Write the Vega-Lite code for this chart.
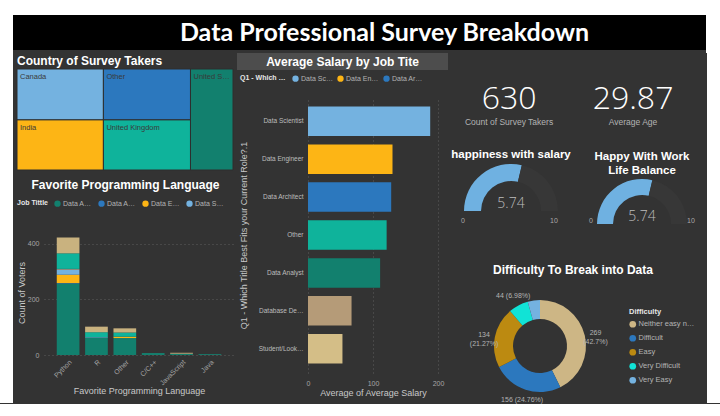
{
  "$schema": "https://vega.github.io/schema/vega-lite/v6.json",
  "background": "#333333",
  "padding": 0,
  "spacing": 0,
  "resolve": {"scale": {"color": "independent", "theta": "independent"}, "legend": {"color": "independent"}},
  "config": {
    "view": {"stroke": null},
    "font": "Liberation Sans",
    "axis": {"domain": false, "ticks": false, "tickSize": 0, "labelColor": "#a6a6a6", "labelFontSize": 7, "titleColor": "#c8c8c8", "titleFontSize": 9, "titleFontWeight": "normal", "gridColor": "#5e5e5e", "gridDash": [1, 3], "labelFlush": false},
    "legend": {"labelColor": "#b3b3b3", "labelFontSize": 7, "titleColor": "#e6e6e6", "titleFontSize": 7, "titleFontWeight": "bold", "symbolType": "circle", "symbolSize": 40, "symbolStrokeWidth": 0, "padding": 0, "labelOffset": 2},
    "title": {"color": "white", "fontWeight": "bold", "font": "Liberation Sans"}
  },
  "vconcat": [
    {
      "spacing": 0,
      "resolve": {"scale": {"color": "independent"}, "legend": {"color": "independent"}},
      "vconcat": [
        {"width": 720, "height": 15, "view": {"fill": "white"}, "data": {"values": [{"t": ""}]}, "mark": {"type": "text"}, "encoding": {"text": {"field": "t"}}},
        {
          "spacing": 0,
          "resolve": {"scale": {"color": "independent"}, "legend": {"color": "independent"}},
          "hconcat": [
            {"width": 13, "height": 38, "view": {"fill": "white"}, "data": {"values": [{"t": ""}]}, "mark": {"type": "text"}, "encoding": {"text": {"field": "t"}}},
            {"width": 693, "height": 35, "view": {"fill": "black"}, "data": {"values": [{"t": "Data Professional Survey Breakdown"}]}, "mark": {"type": "text", "font": "Lato", "fontWeight": "bold", "fontSize": 25, "color": "white", "dx": 25}, "encoding": {"text": {"field": "t"}}},
            {"width": 14, "height": 38, "view": {"fill": "white"}, "data": {"values": [{"t": ""}]}, "mark": {"type": "text"}, "encoding": {"text": {"field": "t"}}}
          ]
        }
      ]
    },
    {
      "spacing": 3,
      "resolve": {"scale": {"color": "independent", "theta": "independent"}, "legend": {"color": "independent"}},
      "hconcat": [
        {"width": 13, "height": 350, "view": {"fill": "white"}, "data": {"values": [{"t": ""}]}, "mark": {"type": "text"}, "encoding": {"text": {"field": "t"}}},
        {
          "spacing": 8,
          "resolve": {"scale": {"color": "independent"}, "legend": {"color": "independent"}},
          "vconcat": [
            {
              "spacing": 0,
              "resolve": {"scale": {"color": "independent"}, "legend": {"color": "independent"}},
              "vconcat": [
                {
                  "width": 216, "height": 15,
                  "data": {"values": [{"t": "Country of Survey Takers"}]},
                  "mark": {"type": "text", "align": "left", "baseline": "middle", "fontSize": 12, "fontWeight": "bold", "color": "white"},
                  "encoding": {
                    "x": {"field": "t", "type": "nominal", "scale": {"type": "point", "padding": 0, "align": 0}, "axis": null},
                    "text": {"field": "t"}
                  }
                },
                {
                  "width": 216, "height": 101,
                  "data": {"values": [
                    {"country": "Canada", "col": 1, "ord": 1, "n": 127},
                    {"country": "India", "col": 1, "ord": 2, "n": 125},
                    {"country": "Other", "col": 2, "ord": 1, "n": 128},
                    {"country": "United Kingdom", "col": 2, "ord": 2, "n": 126},
                    {"country": "United States", "col": 3, "ord": 1, "n": 124}
                  ]},
                  "transform": [
                    {"stack": "n", "groupby": [], "sort": [{"field": "col", "order": "ascending"}, {"field": "ord", "order": "ascending"}], "as": ["s0", "s1"]},
                    {"window": [{"op": "min", "field": "s0", "as": "x0"}, {"op": "max", "field": "s1", "as": "x1"}], "groupby": ["col"], "frame": [null, null]},
                    {"stack": "n", "groupby": ["col"], "sort": [{"field": "ord", "order": "ascending"}], "offset": "normalize", "as": ["y0", "y1"]}
                  ],
                  "encoding": {
                    "x": {"field": "x0", "type": "quantitative", "scale": {"domain": [0, 630], "nice": false, "zero": false}, "axis": null},
                    "y": {"field": "y0", "type": "quantitative", "scale": {"domain": [0, 1], "reverse": true, "nice": false}, "axis": null}
                  },
                  "layer": [
                    {
                      "mark": {"type": "rect", "stroke": "#2e2e2e", "strokeWidth": 1},
                      "encoding": {
                        "x2": {"field": "x1"},
                        "y2": {"field": "y1"},
                        "color": {"field": "country", "type": "nominal", "scale": {"domain": ["Canada", "Other", "India", "United Kingdom", "United States"], "range": ["#74B2E0", "#2C78BE", "#FDB515", "#0FB39B", "#12806E"]}, "legend": null}
                      }
                    },
                    {
                      "transform": [{"filter": "datum.col < 3"}],
                      "mark": {"type": "text", "align": "left", "baseline": "top", "dx": 3, "dy": 4, "fontSize": 7.5, "color": "#3a3a3a", "limit": 80},
                      "encoding": {"text": {"field": "country"}}
                    },
                    {
                      "transform": [{"filter": "datum.col == 3"}],
                      "mark": {"type": "text", "align": "left", "baseline": "top", "dx": 3, "dy": 4, "fontSize": 7.5, "color": "#3a3a3a", "limit": 38},
                      "encoding": {"text": {"field": "country"}}
                    }
                  ]
                }
              ]
            },
            {
              "width": 217, "height": 125,
              "title": {"text": "Favorite Programming Language", "fontSize": 12, "anchor": "middle", "frame": "group", "offset": 8},
              "data": {"values": [
                {"lang": "Python", "role": "Data Analyst", "n": 257},
                {"lang": "Python", "role": "Data Architect", "n": 2},
                {"lang": "Python", "role": "Data Engineer", "n": 30},
                {"lang": "Python", "role": "Data Scientist", "n": 18},
                {"lang": "Python", "role": "Database Developer", "n": 3},
                {"lang": "Python", "role": "Other", "n": 56},
                {"lang": "Python", "role": "Student/Looking/None", "n": 57},
                {"lang": "R", "role": "Data Analyst", "n": 62},
                {"lang": "R", "role": "Data Scientist", "n": 2},
                {"lang": "R", "role": "Other", "n": 18},
                {"lang": "R", "role": "Student/Looking/None", "n": 20},
                {"lang": "Other", "role": "Data Analyst", "n": 61},
                {"lang": "Other", "role": "Data Engineer", "n": 5},
                {"lang": "Other", "role": "Other", "n": 15},
                {"lang": "Other", "role": "Student/Looking/None", "n": 15},
                {"lang": "C/C++", "role": "Data Analyst", "n": 6},
                {"lang": "C/C++", "role": "Other", "n": 1},
                {"lang": "JavaScript", "role": "Data Analyst", "n": 4},
                {"lang": "JavaScript", "role": "Database Developer", "n": 1},
                {"lang": "JavaScript", "role": "Student/Looking/None", "n": 3},
                {"lang": "Java", "role": "Data Analyst", "n": 2},
                {"lang": "Java", "role": "Other", "n": 1}
              ]},
              "mark": {"type": "bar"},
              "encoding": {
                "x": {"field": "lang", "type": "nominal", "sort": ["Python", "R", "Other", "C/C++", "JavaScript", "Java"], "scale": {"range": [27, 217], "paddingInner": 0.2, "paddingOuter": 0.45}, "axis": {"labelAngle": -45, "title": "Favorite Programming Language", "titleX": 122, "labelPadding": 3, "titlePadding": 0}},
                "y": {"aggregate": "sum", "field": "n", "type": "quantitative", "scale": {"domain": [0, 450], "nice": false}, "axis": {"values": [0, 200, 400], "title": "Count of Voters", "grid": true, "offset": -27, "labelPadding": 5, "titlePadding": 1}},
                "order": {"field": "role", "sort": "ascending"},
                "color": {"field": "role", "type": "nominal", "scale": {"domain": ["Data Analyst", "Data Architect", "Data Engineer", "Data Scientist", "Database Developer", "Other", "Student/Looking/None"], "range": ["#12806E", "#2C78BE", "#FDB515", "#74B2E0", "#A89B86", "#0FB39B", "#C9B27F"]},
                  "legend": {"orient": "none", "legendX": 0, "legendY": -30, "direction": "horizontal", "title": "Job Tittle", "titleOrient": "left", "titlePadding": 6, "values": ["Data Analyst", "Data Architect", "Data Engineer", "Data Scientist"], "labelLimit": 30, "columnPadding": 6}}
              }
            }
          ]
        },
        {
          "spacing": 5,
          "resolve": {"scale": {"color": "independent"}, "legend": {"color": "independent"}},
          "vconcat": [
            {"width": 211, "height": 17, "view": {"fill": "#4d4d4d"}, "data": {"values": [{"t": "Average Salary by Job Tite"}]}, "mark": {"type": "text", "fontSize": 12, "fontWeight": "bold", "color": "white"}, "encoding": {"text": {"field": "t"}}},
            {
              "width": 201, "height": 276,
              "data": {"values": [
                {"role": "Data Scientist", "salary": 188},
                {"role": "Data Engineer", "salary": 130},
                {"role": "Data Architect", "salary": 128},
                {"role": "Other", "salary": 121},
                {"role": "Data Analyst", "salary": 111},
                {"role": "Database Developer", "salary": 67},
                {"role": "Student/Looking/None", "salary": 53}
              ]},
              "mark": {"type": "bar"},
              "encoding": {
                "y": {"field": "role", "type": "nominal", "sort": "-x", "scale": {"paddingInner": 0.22, "paddingOuter": 0.25}, "axis": {"title": "Q1 - Which Title Best Fits your Current Role?.1", "offset": -71, "labelLimit": 45, "labelFontSize": 6.5, "labelColor": "#bdbdbd", "labelPadding": 5, "titlePadding": 10}},
                "x": {"field": "salary", "type": "quantitative", "scale": {"domain": [0, 200], "range": [71, 201], "nice": false}, "axis": {"values": [0, 100, 200], "title": "Average of Average Salary", "grid": true, "labelPadding": 6, "titlePadding": 2}},
                "color": {"field": "role", "type": "nominal", "scale": {"domain": ["Data Scientist", "Data Engineer", "Data Architect", "Other", "Data Analyst", "Database Developer", "Student/Looking/None"], "range": ["#74B2E0", "#FDB515", "#2C78BE", "#0FB39B", "#12806E", "#B59B78", "#D4BE87"]},
                  "legend": {"orient": "none", "legendX": 3, "legendY": -22, "direction": "horizontal", "title": "Q1 - Which Title Best Fits your Current Role?", "titleOrient": "left", "titleLimit": 46, "titlePadding": 6, "values": ["Data Scientist", "Data Engineer", "Data Architect"], "labelLimit": 33, "columnPadding": 4}}
              }
            }
          ]
        },
        {
          "spacing": 38,
          "resolve": {"scale": {"color": "independent", "theta": "independent"}, "legend": {"color": "independent"}},
          "vconcat": [
            {
              "spacing": 1,
              "resolve": {"scale": {"color": "independent", "theta": "independent"}, "legend": {"color": "independent"}},
              "vconcat": [
                {
                  "width": 253, "height": 94,
                  "data": {"values": [
                    {"kpi": "Count of Survey Takers", "value": "630"},
                    {"kpi": "Average Age", "value": "29.87"}
                  ]},
                  "encoding": {"x": {"field": "kpi", "type": "nominal", "sort": null, "scale": {"type": "point", "padding": 0.52, "align": 0.45}, "axis": null}},
                  "layer": [
                    {"mark": {"type": "text", "fontSize": 32, "font": "Open Sans", "fontWeight": 300, "color": "white", "baseline": "middle", "dy": -1}, "encoding": {"text": {"field": "value"}}},
                    {"mark": {"type": "text", "fontSize": 8.5, "color": "#b3b3b3", "baseline": "middle", "dy": 22}, "encoding": {"text": {"field": "kpi"}}}
                  ]
                },
                {
                  "spacing": 16,
                  "resolve": {"scale": {"color": "independent", "theta": "independent"}, "legend": {"color": "independent"}},
                  "hconcat": [
                    {
                      "width": 120, "height": 47,
                      "title": {"text": "happiness with salary", "fontSize": 11.5, "anchor": "middle", "frame": "group", "offset": 4},
                      "layer": [
                        {
                          "data": {"values": [{"part": "value", "t0": 0, "t1": 5.74}, {"part": "rest", "t0": 5.74, "t1": 10}]},
                          "mark": {"type": "arc", "radius": 47, "radius2": 30},
                          "encoding": {
                            "y": {"value": "height"},
                            "theta": {"field": "t0", "type": "quantitative", "stack": null, "scale": {"domain": [0, 10], "range": [-1.5708, 1.5708]}},
                            "theta2": {"field": "t1"},
                            "color": {"field": "part", "type": "nominal", "scale": {"domain": ["value", "rest"], "range": ["#6FB1E1", "#373737"]}, "legend": null}
                          }
                        },
                        {
                          "data": {"values": [{"v": 5.74}]},
                          "mark": {"type": "text", "fontSize": 14, "font": "Open Sans", "fontWeight": 300, "color": "#bdbdbd", "baseline": "bottom"},
                          "encoding": {"y": {"value": "height"}, "text": {"field": "v", "format": ".2f"}}
                        },
                        {
                          "data": {"values": [{"v": 0}, {"v": 10}]},
                          "mark": {"type": "text", "fontSize": 7, "color": "#aaaaaa", "baseline": "middle", "dy": 10},
                          "encoding": {"x": {"field": "v", "type": "quantitative", "scale": {"domain": [-1.32, 11.87], "nice": false, "zero": false}, "axis": null}, "y": {"value": "height"}, "text": {"field": "v"}}
                        }
                      ]
                    },
                    {
                      "width": 110, "height": 60,
                      "title": {"text": ["Happy With Work", "Life Balance"], "fontSize": 11.5, "lineHeight": 14, "anchor": "middle", "frame": "group", "offset": -12},
                      "layer": [
                        {
                          "data": {"values": [{"part": "value", "t0": 0, "t1": 5.74}, {"part": "rest", "t0": 5.74, "t1": 10}]},
                          "mark": {"type": "arc", "radius": 45, "radius2": 29},
                          "encoding": {
                            "y": {"value": "height"},
                            "theta": {"field": "t0", "type": "quantitative", "stack": null, "scale": {"domain": [0, 10], "range": [-1.5708, 1.5708]}},
                            "theta2": {"field": "t1"},
                            "color": {"field": "part", "type": "nominal", "scale": {"domain": ["value", "rest"], "range": ["#6FB1E1", "#373737"]}, "legend": null}
                          }
                        },
                        {
                          "data": {"values": [{"v": 5.74}]},
                          "mark": {"type": "text", "fontSize": 14, "font": "Open Sans", "fontWeight": 300, "color": "#bdbdbd", "baseline": "bottom"},
                          "encoding": {"y": {"value": "height"}, "text": {"field": "v", "format": ".2f"}}
                        },
                        {
                          "data": {"values": [{"v": 0}, {"v": 10}]},
                          "mark": {"type": "text", "fontSize": 7, "color": "#aaaaaa", "baseline": "middle", "dy": -3},
                          "encoding": {"x": {"field": "v", "type": "quantitative", "scale": {"domain": [-0.4, 10.6], "nice": false, "zero": false}, "axis": null}, "y": {"value": "height"}, "text": {"field": "v"}}
                        }
                      ]
                    }
                  ]
                }
              ]
            },
            {
              "width": 178, "height": 108,
              "title": {"text": "Difficulty To Break into Data", "fontSize": 12, "anchor": "middle", "frame": "bounds", "offset": 9},
              "data": {"values": [
                {"difficulty": "Neither easy nor difficult", "n": 269, "label": "269\n(42.7%)"},
                {"difficulty": "Difficult", "n": 156, "label": "156 (24.76%)"},
                {"difficulty": "Easy", "n": 134, "label": "134\n(21.27%)"},
                {"difficulty": "Very Difficult", "n": 44, "label": "44 (6.98%)"},
                {"difficulty": "Very Easy", "n": 27, "label": ""}
              ]},
              "encoding": {
                "theta": {"field": "n", "type": "quantitative", "stack": true},
                "order": {"field": "n", "sort": "descending"}
              },
              "layer": [
                {
                  "mark": {"type": "arc", "radius": 46, "radius2": 27},
                  "encoding": {
                    "color": {"field": "difficulty", "type": "nominal", "sort": ["Neither easy nor difficult", "Difficult", "Easy", "Very Difficult", "Very Easy"], "scale": {"domain": ["Neither easy nor difficult", "Difficult", "Easy", "Very Difficult", "Very Easy"], "range": ["#CDB685", "#2C78BE", "#BC8A11", "#11E3D6", "#74B2E0"]},
                      "legend": {"orient": "none", "legendX": 178, "legendY": 16, "title": "Difficulty", "labelLimit": 58, "symbolSize": 45, "rowPadding": 5, "labelFontSize": 7.5, "titleFontSize": 7.5, "titlePadding": 5}}
                  }
                },
                {
                  "mark": {"type": "text", "radius": 57, "fontSize": 7, "color": "#b3b3b3", "lineBreak": "\n"},
                  "encoding": {"text": {"field": "label"}}
                }
              ]
            }
          ]
        },
        {"width": 14, "height": 350, "view": {"fill": "white"}, "data": {"values": [{"t": ""}]}, "mark": {"type": "text"}, "encoding": {"text": {"field": "t"}}}
      ]
    },
    {"width": 720, "height": 13, "view": {"fill": "white"}, "data": {"values": [{"t": ""}]}, "mark": {"type": "text"}, "encoding": {"text": {"field": "t"}}}
  ]
}
